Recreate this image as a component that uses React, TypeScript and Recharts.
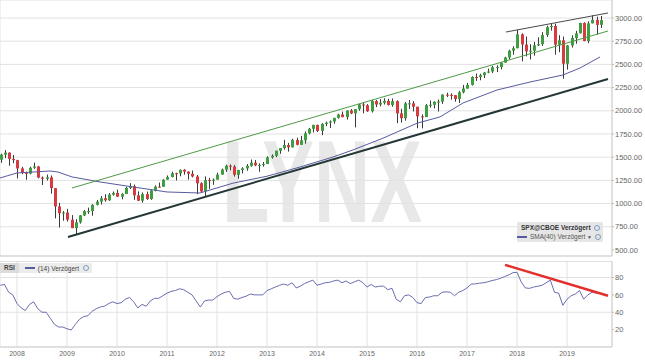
import { ComposedChart, LineChart, Bar, Line, XAxis, YAxis, CartesianGrid, ReferenceLine } from "recharts"

// monthly candles, first one is Sep 2007
const START_YEAR = 2007
const START_MONTH = 9

const OPEN = [
    1473, 1527, 1549, 1481,
    1468, 1379, 1331, 1323, 1386, 1400, 1280, 1267, 1283, 1166, 969, 896,
    903, 826, 735, 798, 873, 919, 919, 987, 1021, 1057, 1036, 1096,
    1115, 1074, 1104, 1169, 1187, 1089, 1031, 1102, 1049, 1141, 1183, 1181,
    1258, 1286, 1327, 1326, 1364, 1345, 1321, 1292, 1219, 1131, 1253, 1247,
    1258, 1312, 1366, 1408, 1398, 1310, 1362, 1379, 1407, 1441, 1412, 1416,
    1426, 1498, 1515, 1569, 1598, 1631, 1606, 1686, 1633, 1682, 1757, 1806,
    1848, 1783, 1859, 1872, 1884, 1924, 1960, 1931, 2003, 1972, 2018, 2068,
    2059, 1995, 2105, 2068, 2086, 2107, 2063, 2104, 1972, 1920, 2079, 2080,
    2044, 1940, 1932, 2060, 2065, 2097, 2099, 2174, 2171, 2168, 2126, 2199,
    2239, 2279, 2364, 2363, 2384, 2412, 2423, 2470, 2472, 2519, 2575, 2648,
    2674, 2824, 2714, 2641, 2648, 2705, 2718, 2816, 2902, 2914, 2712, 2760,
    2507, 2704, 2784, 2834, 2946, 2752, 2942, 2980, 2926,
]

const HIGH = [
    1538, 1576, 1552, 1524,
    1472, 1396, 1344, 1397, 1441, 1405, 1292, 1313, 1303, 1167, 1007, 919,
    943, 876, 832, 876, 930, 956, 993, 1039, 1081, 1101, 1113, 1130,
    1150, 1112, 1180, 1220, 1205, 1131, 1120, 1129, 1149, 1196, 1227, 1263,
    1303, 1344, 1333, 1367, 1371, 1346, 1356, 1308, 1230, 1293, 1277, 1270,
    1333, 1378, 1420, 1422, 1415, 1363, 1392, 1426, 1475, 1470, 1434, 1448,
    1510, 1530, 1570, 1598, 1687, 1654, 1698, 1710, 1730, 1776, 1814, 1849,
    1851, 1867, 1884, 1897, 1924, 1968, 1991, 2005, 2019, 2018, 2075, 2093,
    2072, 2119, 2117, 2126, 2135, 2130, 2133, 2113, 2021, 2094, 2116, 2104,
    2044, 1962, 2073, 2111, 2103, 2120, 2178, 2194, 2188, 2170, 2214, 2278,
    2301, 2372, 2401, 2399, 2419, 2454, 2484, 2491, 2519, 2582, 2657, 2695,
    2873, 2835, 2801, 2718, 2742, 2791, 2848, 2917, 2941, 2940, 2815, 2800,
    2708, 2813, 2861, 2949, 2954, 2964, 3028, 3014, 3022,
]

const LOW = [
    1439, 1490, 1407, 1435,
    1270, 1317, 1257, 1315, 1373, 1272, 1200, 1248, 1107, 840, 742, 815,
    805, 735, 667, 784, 866, 889, 869, 979, 991, 1020, 1029, 1086,
    1071, 1045, 1102, 1157, 1040, 1028, 1010, 1040, 1040, 1131, 1173, 1181,
    1257, 1282, 1249, 1294, 1312, 1258, 1282, 1101, 1115, 1074, 1159, 1202,
    1258, 1312, 1341, 1358, 1291, 1267, 1325, 1354, 1397, 1403, 1343, 1398,
    1426, 1485, 1501, 1537, 1581, 1560, 1605, 1627, 1633, 1646, 1746, 1767,
    1771, 1737, 1834, 1814, 1860, 1915, 1931, 1905, 1964, 1821, 2001, 1973,
    1988, 1981, 2040, 2048, 2067, 2056, 2044, 1867, 1872, 1894, 2019, 1993,
    1812, 1810, 1932, 2034, 2026, 1992, 2074, 2148, 2119, 2098, 2084, 2188,
    2239, 2272, 2322, 2329, 2353, 2405, 2407, 2417, 2446, 2519, 2557, 2605,
    2674, 2533, 2586, 2553, 2594, 2698, 2699, 2796, 2864, 2604, 2631, 2346,
    2444, 2682, 2722, 2834, 2750, 2728, 2942, 2822, 2892,
]

const CLOSE = [
    1527, 1549, 1481, 1468,
    1379, 1331, 1323, 1386, 1400, 1280, 1267, 1283, 1166, 969, 896, 903,
    826, 735, 798, 873, 919, 919, 987, 1021, 1057, 1036, 1096, 1115,
    1074, 1104, 1169, 1187, 1089, 1031, 1102, 1049, 1141, 1183, 1181, 1258,
    1286, 1327, 1326, 1364, 1345, 1321, 1292, 1219, 1131, 1253, 1247, 1258,
    1312, 1366, 1408, 1398, 1310, 1362, 1379, 1407, 1441, 1412, 1416, 1426,
    1498, 1515, 1569, 1598, 1631, 1606, 1686, 1633, 1682, 1757, 1806, 1848,
    1783, 1859, 1872, 1884, 1924, 1960, 1931, 2003, 1972, 2018, 2068, 2059,
    1995, 2105, 2068, 2086, 2107, 2063, 2104, 1972, 1920, 2079, 2080, 2044,
    1940, 1932, 2060, 2065, 2097, 2099, 2174, 2171, 2168, 2126, 2199, 2239,
    2279, 2364, 2363, 2384, 2412, 2423, 2470, 2472, 2519, 2575, 2648, 2674,
    2824, 2714, 2641, 2648, 2705, 2718, 2816, 2902, 2914, 2712, 2760, 2507,
    2704, 2784, 2834, 2946, 2752, 2942, 2980, 2926, 2977,
]

const RSI = [
    71, 72, 63, 60,
    50, 45, 42, 49, 52, 44, 40, 40, 33, 26, 23, 23,
    21, 19.5, 26, 32, 35, 36, 41, 44, 46, 47, 50, 52,
    50, 51, 55, 57, 52, 45, 49, 47, 53, 56, 56, 59,
    62, 64, 65, 67, 66, 63, 60, 53, 46, 53, 54, 54,
    58, 61, 63, 64, 56, 55, 57, 58.5, 61, 60, 60, 60,
    65, 67, 69, 71, 72.5, 71, 74, 68, 70, 73, 75, 77,
    71, 72.5, 74, 74.5, 76, 77, 74, 76, 73, 75, 77, 74,
    69, 72, 69, 70, 70, 66, 67.5, 55, 52, 59, 60, 57,
    51, 50, 57, 57.5, 59, 59, 63, 63.5, 63, 59, 63, 65,
    68, 72.4, 72.7, 73.5, 74, 75, 76.5, 77.5, 79, 81, 83, 85.5,
    86, 75, 68, 67.5, 69, 70, 71, 74, 77, 63, 62, 48,
    55, 59, 61, 65, 55, 60, 63, 62, 62,
]

// SMA(40) at these dates
const SMA_T = [2007.66, 2008.0, 2008.32, 2008.66, 2008.82, 2009.1, 2009.66, 2010.32, 2011.0, 2011.66, 2012.32, 2013.0, 2013.66, 2014.32, 2014.72, 2015.32, 2016.0, 2016.46, 2016.92, 2017.6, 2018.26, 2018.92, 2019.26, 2019.66]
const SMA_V = [1276, 1330, 1340, 1351, 1340, 1287, 1233, 1179, 1125, 1114, 1220, 1295, 1394, 1502, 1578, 1705, 1866, 1934, 2084, 2224, 2310, 2386, 2461, 2580]

const YEARS = [2008, 2009, 2010, 2011, 2012, 2013, 2014, 2015, 2016, 2017, 2018, 2019]
const PRICE_TICKS = [500, 750, 1000, 1250, 1500, 1750, 2000, 2250, 2500, 2750, 3000]
const RSI_TICKS = [20, 40, 60, 80]

// hand drawn trend lines
const SUPPORT_LINE = [{ x: 2009.02, y: 640 }, { x: 2019.82, y: 2343 }]
const CHANNEL_LOW = [{ x: 2009.1, y: 1168 }, { x: 2019.82, y: 2860 }]
const CHANNEL_HIGH = [{ x: 2017.78, y: 2849 }, { x: 2019.82, y: 3054 }]
const RSI_TREND = [{ x: 2017.76, y: 94.6 }, { x: 2019.82, y: 59 }]

const X_DOMAIN = [2007.66, 2019.9]
const PRICE_DOMAIN = [435, 3194]
const RSI_DOMAIN = [0, 99]

const GREEN = "#3f9e3f"
const RED = "#d93a40"
const SMA_COLOR = "#575b9e"
const FONT = "'Liberation Sans', Arial, sans-serif"

const candles = OPEN.map((o, i) => ({
    t: START_YEAR + (START_MONTH - 1 + i) / 12,
    open: o,
    high: HIGH[i],
    low: LOW[i],
    close: CLOSE[i],
}))
const smaRows = SMA_T.map((t, i) => ({ t, sma: SMA_V[i] }))
const rsiRows = RSI.map((v, i) => ({ t: START_YEAR + (START_MONTH - 1 + i) / 12, rsi: v }))

const Candle = (props: any) => {
    const { x, y, width, height, payload } = props
    if (!payload || x == null) return null
    const { open, high, low, close } = payload
    const top = Math.min(y, y + height)
    const h = Math.abs(height)
    const range = high - low || 1
    const py = (v: number) => top + ((high - v) / range) * h
    const cx = Math.round(x + (width || 0) / 2)
    const bTop = py(Math.max(open, close))
    const bBot = py(Math.min(open, close))
    return (
        <g>
            <line x1={cx + 0.5} x2={cx + 0.5} y1={top} y2={top + h} stroke="#3a3a3a" strokeWidth={1} />
            <rect x={cx - 1} y={bTop} width={3} height={Math.max(1, bBot - bTop)} fill={close >= open ? GREEN : RED} />
        </g>
    )
}

const Gear = () => (
    <span style={{ display: "inline-block", width: 4, height: 4, borderRadius: 3, border: "1px solid #7d9cc4", marginLeft: 3, verticalAlign: "middle" }} />
)

const tickStyle = { fontSize: 7.5, fill: "#666", fontFamily: FONT }

export default function App() {
    return (
        <div style={{ position: "relative", width: 645, height: 363, background: "#fff", overflow: "hidden", fontFamily: FONT }}>
            <style>{"body{margin:0}"}</style>

            <svg width={645} height={363} style={{ position: "absolute", left: 0, top: 0 }}>
                <text x={222} y={222} fontSize={117} fontWeight="bold" fill="#e8e8e8" fontFamily={FONT}
                    textLength={200} lengthAdjust="spacingAndGlyphs">LYNX</text>
            </svg>

            <div style={{ position: "absolute", left: 0, top: 0 }}>
                <ComposedChart width={645} height={257} data={candles} margin={{ top: 0, right: 0, bottom: 0, left: 0 }}>
                    <CartesianGrid stroke="#e2e2e2" />
                    <XAxis dataKey="t" type="number" domain={X_DOMAIN} ticks={YEARS} allowDataOverflow
                        height={1} tick={false} tickLine={false} axisLine={{ stroke: "#cfcfcf" }} />
                    <YAxis orientation="right" width={33} domain={PRICE_DOMAIN} ticks={PRICE_TICKS} allowDataOverflow
                        tickFormatter={(v) => Number(v).toFixed(2)} tick={tickStyle} tickSize={2} tickMargin={1}
                        axisLine={{ stroke: "#cfcfcf" }} tickLine={{ stroke: "#bbb" }} />
                    <Bar dataKey={(d: any) => [d.low, d.high]} barSize={3} shape={<Candle />} isAnimationActive={false} />
                </ComposedChart>
            </div>

            <div style={{ position: "absolute", left: 0, top: 0 }}>
                <LineChart width={645} height={256} data={smaRows} margin={{ top: 0, right: 33, bottom: 0, left: 0 }}>
                    <XAxis dataKey="t" type="number" domain={X_DOMAIN} allowDataOverflow hide />
                    <YAxis domain={PRICE_DOMAIN} allowDataOverflow hide />
                    <Line dataKey="sma" type="linear" stroke={SMA_COLOR} strokeWidth={1} dot={false} activeDot={false} isAnimationActive={false} />
                    <ReferenceLine segment={CHANNEL_LOW} stroke="#4e9a46" strokeWidth={1} ifOverflow="visible" />
                    <ReferenceLine segment={CHANNEL_HIGH} stroke="#4a4a4a" strokeWidth={1} ifOverflow="visible" />
                    <ReferenceLine segment={SUPPORT_LINE} stroke="#243636" strokeWidth={2} ifOverflow="visible" />
                </LineChart>
            </div>

            <div style={{ position: "absolute", left: 0, top: 261 }}>
                <LineChart width={645} height={102} data={rsiRows} margin={{ top: 0, right: 0, bottom: 0, left: 0 }}>
                    <CartesianGrid stroke="#e2e2e2" />
                    <XAxis dataKey="t" type="number" domain={X_DOMAIN} ticks={YEARS} allowDataOverflow
                        height={16} tick={{ ...tickStyle, fontSize: 7 }} tickLine={false} tickSize={3} tickMargin={1}
                        axisLine={{ stroke: "#cfcfcf" }} />
                    <YAxis orientation="right" width={33} domain={RSI_DOMAIN} ticks={RSI_TICKS} allowDataOverflow
                        tick={tickStyle} tickSize={2} tickMargin={1}
                        axisLine={{ stroke: "#cfcfcf" }} tickLine={{ stroke: "#bbb" }} />
                    <ReferenceLine y={RSI_DOMAIN[1]} stroke="#cfcfcf" />
                    <Line dataKey="rsi" type="linear" stroke="#6a6db0" strokeWidth={1} dot={false} activeDot={false} isAnimationActive={false} />
                    <ReferenceLine segment={RSI_TREND} stroke="#e4302c" strokeWidth={2.5} ifOverflow="visible" />
                </LineChart>
            </div>

            <div style={{ position: "absolute", left: 517, top: 222, width: 86, height: 20, background: "#e6e6e6", fontSize: 6.5, color: "#333", lineHeight: "9px", padding: "1px 0 0 4px", boxSizing: "border-box", whiteSpace: "nowrap" }}>
                <div style={{ fontWeight: "bold" }}>SPX@CBOE Verzögert<Gear /></div>
                <div style={{ color: "#555", marginLeft: -4 }}>
                    <span style={{ display: "inline-block", width: 10, height: 2, background: SMA_COLOR, verticalAlign: "middle", marginRight: 3 }} />
                    SMA(40) Verzögert <span style={{ fontSize: 5 }}>▼</span><Gear />
                </div>
            </div>

            <div style={{ position: "absolute", left: 0, top: 263, height: 10, display: "flex", alignItems: "center", fontSize: 6.5, color: "#444", background: "#ececec", whiteSpace: "nowrap" }}>
                <span style={{ fontWeight: "bold", background: "#dcdcdc", padding: "0 4px", lineHeight: "10px" }}>RSI</span>
                <span style={{ display: "inline-block", width: 10, height: 2, background: SMA_COLOR, margin: "0 3px 0 6px" }} />
                <span style={{ paddingRight: 1 }}>(14) Verzögert</span><Gear />
                <span style={{ width: 3 }} />
            </div>
        </div>
    )
}
